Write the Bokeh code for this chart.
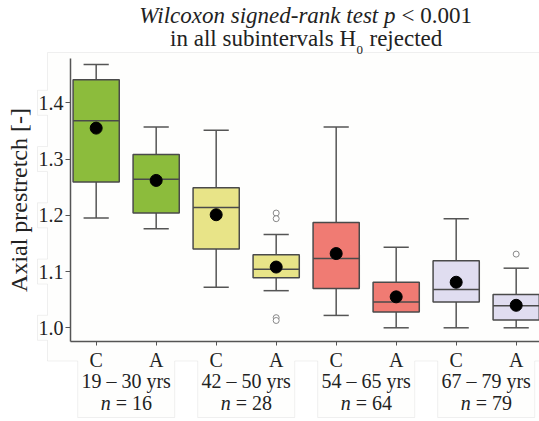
from bokeh.plotting import figure
from bokeh.models import (ColumnDataSource, LinearAxis, FixedTicker, Label,
                          PolyAnnotation, Range1d, NumeralTickFormatter)
from bokeh.embed import file_html
from bokeh.resources import INLINE

# ---- data -------------------------------------------------------------
groups = ["19 – 30 yrs", "42 – 50 yrs", "54 – 65 yrs", "67 – 79 yrs"]
group_n = [16, 28, 64, 79]
series = ["C", "A"]
group_colors = ["#8cbc3c", "#e8e488", "#f07b73", "#e0ddf0"]

whisker_low = [1.195, 1.176, 1.072, 1.066, 1.022, 1.000, 1.000, 1.000]
q1 = [1.259, 1.204, 1.140, 1.089, 1.070, 1.028, 1.046, 1.014]
median = [1.368, 1.264, 1.214, 1.104, 1.123, 1.046, 1.068, 1.039]
q3 = [1.441, 1.308, 1.249, 1.130, 1.187, 1.081, 1.119, 1.059]
whisker_high = [1.468, 1.357, 1.351, 1.166, 1.357, 1.143, 1.194, 1.106]
mean = [1.355, 1.262, 1.201, 1.108, 1.132, 1.055, 1.081, 1.040]

outlier_box = [4, 4, 4, 4, 8]          # 1-based box position
outlier_val = [1.204, 1.194, 1.018, 1.013, 1.131]

y_ticks = [1.0, 1.1, 1.2, 1.3, 1.4]

# ---- canvas geometry ----------------------------------------------------
# The plot frame fills the whole canvas; axes sit at fixed locations inside
# it so the heading, sample-size notes and the panel outline can share it.
W, H = 539, 421
PX_PER_X = 60.0          # pixels per box slot
PX_PER_Y = 562.5         # pixels per unit of prestretch
XR = (0.572 - 70 / PX_PER_X, 0.572 + (W - 70) / PX_PER_X)
YR = (1.0 - (H - 327.3) / PX_PER_Y, 1.0 + 327.3 / PX_PER_Y)
SERIF = "Liberation Serif"
INK = "#222222"
AXIS = "#555555"

def dx(px):
    return XR[0] + px / PX_PER_X

def dy(py):
    return YR[1] - py / PX_PER_Y

def py_of(v):
    return (YR[1] - v) * PX_PER_Y

def px_of(v):
    return (v - XR[0]) * PX_PER_X

AX_LEFT, AX_BOTTOM, AX_TOP = 70, 340.7, 58

n_boxes = len(groups) * len(series)
pos = list(range(1, n_boxes + 1))
fill = [group_colors[i // 2] for i in range(n_boxes)]
tick_text = {p: series[i % 2] for i, p in enumerate(pos)}
centers = [2 * i + 1.5 for i in range(len(groups))]

p = figure(width=W, height=H, x_range=Range1d(*XR), y_range=Range1d(*YR),
           output_backend="svg", toolbar_location=None,
           min_border=0, x_axis_type=None, y_axis_type=None)
p.outline_line_color = None
p.background_fill_color = "white"
p.border_fill_color = "white"
p.xgrid.visible = False
p.ygrid.visible = False

# ---- panel outline with tabs for the tick labels ----------------------
ox, oy = [], []
def add(px, pyy):
    ox.append(dx(px)); oy.append(dy(pyy))

add(545, 52); add(47, 52)
for t in sorted(y_ticks, reverse=True):
    c = py_of(t)
    add(47, c - 12.5); add(37, c - 12.5); add(37, c + 12.5); add(47, c + 12.5)
add(47, 360.5)
for c in centers:
    cp = px_of(c)
    add(cp - 48.5, 360.5); add(cp - 48.5, 417); add(cp + 48.5, 417); add(cp + 48.5, 360.5)
add(545, 360.5)
p.add_layout(PolyAnnotation(xs=ox, ys=oy, fill_color="#fdfcfa",
                            line_color="#cdcdcd", line_width=1, level="underlay"))

# ---- boxes ----------------------------------------------------------------
src = ColumnDataSource(dict(x=pos, lo=whisker_low, q1=q1, med=median, q3=q3,
                            hi=whisker_high, mean=mean, fill=fill))
box_w = 0.77
cap_w = 0.42
p.segment("x", "lo", "x", "q1", source=src, line_color=AXIS, line_width=1.5)
p.segment("x", "q3", "x", "hi", source=src, line_color=AXIS, line_width=1.5)
cap_src = ColumnDataSource(dict(x0=[x - cap_w / 2 for x in pos],
                                x1=[x + cap_w / 2 for x in pos],
                                lo=whisker_low, hi=whisker_high))
p.segment("x0", "lo", "x1", "lo", source=cap_src, line_color=AXIS, line_width=1.5)
p.segment("x0", "hi", "x1", "hi", source=cap_src, line_color=AXIS, line_width=1.5)
p.vbar(x="x", width=box_w, bottom="q1", top="q3", source=src, fill_color="fill",
       line_color="#4a4a4a", line_width=1.5)
med_src = ColumnDataSource(dict(x0=[x - box_w / 2 for x in pos],
                                x1=[x + box_w / 2 for x in pos], m=median))
p.segment("x0", "m", "x1", "m", source=med_src, line_color="#4a4a4a", line_width=1.5)
p.scatter("x", "mean", source=src, size=12, color="black")
p.scatter(outlier_box, outlier_val, size=6, fill_color="white",
          line_color="#888888", line_width=1)

# ---- axes -------------------------------------------------------------
ya = LinearAxis(ticker=FixedTicker(ticks=y_ticks),
                formatter=NumeralTickFormatter(format="0.0"),
                fixed_location=dx(AX_LEFT), bounds=(dy(AX_BOTTOM), dy(AX_TOP)))
ya.minor_tick_line_color = None
ya.major_tick_out = 5
ya.major_tick_in = 0
ya.major_label_standoff = 2
ya.axis_line_color = AXIS
ya.axis_line_width = 1.5
ya.major_tick_line_color = AXIS
ya.major_label_text_font = SERIF
ya.major_label_text_font_size = "20px"
ya.major_label_text_color = INK
ya.axis_label = "Axial prestretch [-]"
ya.axis_label_text_font = SERIF
ya.axis_label_text_font_size = "24px"
ya.axis_label_text_font_style = "normal"
ya.axis_label_text_color = INK
ya.axis_label_standoff = 4
p.add_layout(ya, "left")

xa = LinearAxis(ticker=FixedTicker(ticks=pos), major_label_overrides=tick_text,
                fixed_location=dy(AX_BOTTOM), bounds=(dx(AX_LEFT), dx(545)))
xa.minor_tick_line_color = None
xa.major_tick_out = 4
xa.major_tick_in = 0
xa.major_label_standoff = 4
xa.axis_line_color = AXIS
xa.axis_line_width = 1.5
xa.major_tick_line_color = AXIS
xa.major_label_text_font = SERIF
xa.major_label_text_font_size = "20px"
xa.major_label_text_color = INK
p.add_layout(xa, "below")

ga = LinearAxis(ticker=FixedTicker(ticks=centers),
                major_label_overrides={c: g for c, g in zip(centers, groups)},
                fixed_location=dy(369))
ga.axis_line_color = None
ga.major_tick_line_color = None
ga.minor_tick_line_color = None
ga.major_tick_out = 0
ga.major_tick_in = 0
ga.major_label_standoff = 0
ga.major_label_text_font = SERIF
ga.major_label_text_font_size = "20px"
ga.major_label_text_color = INK
p.add_layout(ga, "below")

# ---- sample sizes -------------------------------------------------------
for c, n in zip(centers, group_n):
    p.add_layout(Label(x=c, y=dy(413), x_offset=-15.5, text="n", text_align="right",
                       text_font=SERIF, text_font_size="20px",
                       text_font_style="italic", text_color=INK))
    p.add_layout(Label(x=c, y=dy(413), x_offset=-10.5, text="= %d" % n,
                       text_align="left", text_font=SERIF, text_font_size="20px",
                       text_color=INK))

# ---- heading ------------------------------------------------------------
p.add_layout(Label(x=dx(395), y=dy(27), text="Wilcoxon signed-rank test p",
                   text_align="right", text_font=SERIF, text_font_size="23px",
                   text_font_style="italic", text_color=INK))
p.add_layout(Label(x=dx(401), y=dy(27), text="< 0.001", text_align="left",
                   text_font=SERIF, text_font_size="23px", text_color=INK))
p.add_layout(Label(x=dx(355.5), y=dy(50), text="in all subintervals H",
                   text_align="right", text_font=SERIF, text_font_size="23px",
                   text_color=INK))
p.add_layout(Label(x=dx(356), y=dy(53), text="0", text_align="left",
                   text_font=SERIF, text_font_size="13px", text_color=INK))
p.add_layout(Label(x=dx(369), y=dy(50), text="rejected", text_align="left",
                   text_font=SERIF, text_font_size="23px", text_color=INK))

open("out.html", "w").write(file_html(p, INLINE))
